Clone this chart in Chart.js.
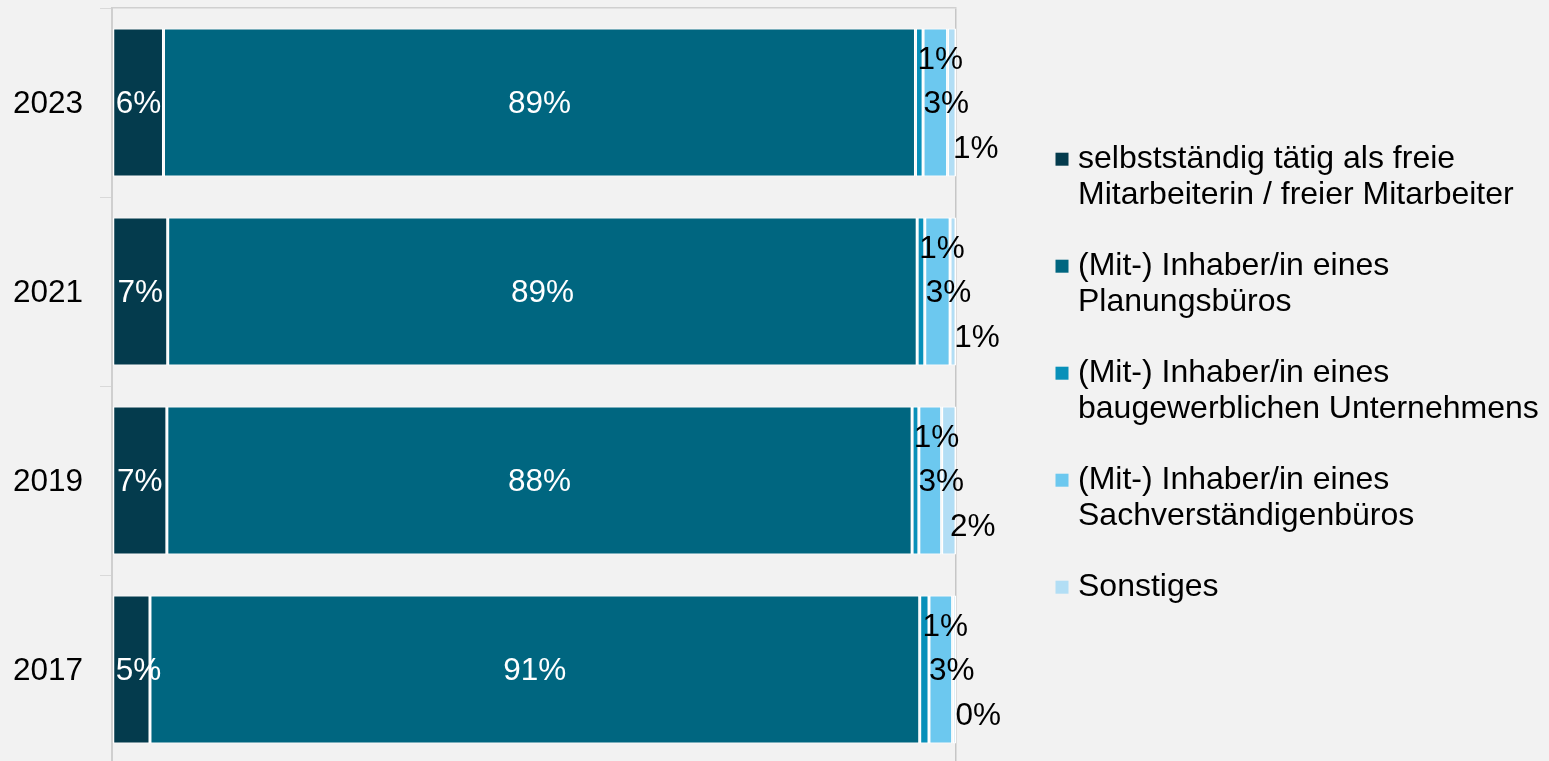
<!DOCTYPE html>
<html lang="de">
<head>
<meta charset="utf-8">
<title>Berufliche Stellung</title>
<script src="https://cdn.jsdelivr.net/npm/chart.js@4/dist/chart.umd.min.js"></script>
<style>
  html, body { margin: 0; padding: 0; background: #f2f2f2; overflow: hidden; }
  #wrap { width: 1549px; height: 772px; position: relative; }
</style>
</head>
<body>
<div id="wrap"><canvas id="canvas_stellung"></canvas></div>
<script>
// Jahre (von oben nach unten)
var jahre = ['2023', '2021', '2019', '2017'];

// Anteile in Prozent je Jahr
var selbststaendig = [6.1, 6.6, 6.5, 4.5];
var planungsbuero  = [89.1, 88.8, 88.3, 91.2];
var baugewerbe     = [0.9, 0.9, 0.8, 1.1];
var sachverstaend  = [2.9, 3.0, 2.7, 2.8];
var sonstiges      = [1.0, 0.7, 1.7, 0.4];

// Legendentexte (zweizeilig); Leerzeichen am Ende nur für die Breitenberechnung
var legendTexte = [
  ['selbstständig tätig als freie', 'Mitarbeiterin / freier Mitarbeiter    '],
  ['(Mit-) Inhaber/in eines', 'Planungsbüros'],
  ['(Mit-) Inhaber/in eines', 'baugewerblichen Unternehmens'],
  ['(Mit-) Inhaber/in eines', 'Sachverständigenbüros'],
  ['Sonstiges', '']
];

var farben = ['#043b4d', '#006680', '#0890b9', '#6cc8ef', '#b2def5'];

var FONT = "'Liberation Sans', Arial, sans-serif";
var FS = 31.5;
var FS_LEG = 32;

Chart.defaults.font.family = FONT;
Chart.defaults.color = '#000';

function makeSet(idx, werte) {
  return {
    label: legendTexte[idx],
    data: werte,
    backgroundColor: farben[idx],
    borderColor: '#ffffff',
    borderWidth: { left: 1.5, right: 1.5, top: 1, bottom: 1 },
    borderSkipped: false,
    barPercentage: 0.783,
    categoryPercentage: 1
  };
}

// Beschriftung der Segmente (Versatz je Reihe)
var labelVersatz = [
  { dx: 0, dy: 0 },
  { dx: 0, dy: 0 },
  { dx: 21, dy: -44 },
  { dx: 11, dy: 0 },
  { dx: 24, dy: 45 }
];

var segLabels = {
  id: 'segLabels',
  afterDatasetsDraw: function(chart) {
    var ctx = chart.ctx;
    ctx.save();
    ctx.font = FS + 'px ' + FONT;
    ctx.textBaseline = 'middle';
    ctx.textAlign = 'center';
    chart.data.datasets.forEach(function(ds, di) {
      var meta = chart.getDatasetMeta(di);
      meta.data.forEach(function(bar, i) {
        var p = bar.getProps(['x', 'base', 'y'], true);
        var txt = Math.round(ds.data[i]) + '%';
        var w = ctx.measureText(txt).width;
        var mid = (p.x + p.base) / 2;
        var lx = mid + labelVersatz[di].dx;
        var ly = p.y + labelVersatz[di].dy + 2;
        if (di === 0) lx = Math.max(mid, Math.min(p.x, p.base) + w / 2 + 3);
        ctx.fillStyle = di < 2 ? '#ffffff' : '#000000';
        ctx.fillText(txt, lx, ly);
      });
    });
    ctx.restore();
  }
};

var config = {
  type: 'bar',
  data: {
    labels: jahre,
    datasets: [
      makeSet(0, selbststaendig),
      makeSet(1, planungsbuero),
      makeSet(2, baugewerbe),
      makeSet(3, sachverstaend),
      makeSet(4, sonstiges)
    ]
  },
  options: {
    indexAxis: 'y',
    responsive: true,
    maintainAspectRatio: false,
    animation: false,
    layout: { padding: { left: 13, top: 8, right: 0, bottom: 8 } },
    scales: {
      x: {
        position: 'top',
        stacked: true,
        min: 0,
        max: 100,
        ticks: { display: false, stepSize: 100 },
        grid: { color: '#c6c6c6', lineWidth: 1.5, drawTicks: false },
        border: { color: '#d0d0d0', width: 1.5 },
        afterFit: function(s) { s.paddingLeft = 0; s.paddingRight = 0; }
      },
      y: {
        stacked: true,
        grid: { drawOnChartArea: false, drawTicks: true, tickLength: 12, color: '#d9d9d9', offset: true },
        border: { color: '#cfcfcf', width: 2 },
        ticks: { padding: 17, color: '#000', labelOffset: 1.5, font: { size: FS, family: FONT } },
        afterFit: function(s) { s.width = 99; s.paddingTop = 0; s.paddingBottom = 0; }
      },
      gap: {
        type: 'linear',
        position: 'right',
        display: true,
        grid: { display: false },
        border: { display: false },
        ticks: { display: false },
        afterFit: function(s) { s.width = 71; s.paddingTop = 0; s.paddingBottom = 0; }
      }
    },
    plugins: {
      tooltip: { enabled: false },
      legend: {
        position: 'right',
        maxWidth: 522,
        title: { display: true, text: '', padding: 0, font: { size: 12, lineHeight: 1.2 } },
        labels: {
          color: '#000',
          font: { size: FS_LEG, family: FONT, lineHeight: 36 / FS_LEG },
          padding: 35,
          usePointStyle: true,
          pointStyle: 'rect',
          boxWidth: 0.01,
          boxHeight: 13,
          generateLabels: function(chart) {
            var items = Chart.defaults.plugins.legend.labels.generateLabels(chart);
            items.forEach(function(it) {
              it.lineWidth = 0;
              it.strokeStyle = it.fillStyle;
              it.pointStyle = 'rect';
            });
            return items;
          }
        }
      }
    }
  },
  plugins: [segLabels]
};

var ctx_stellung = document.getElementById('canvas_stellung').getContext('2d');
new Chart(ctx_stellung, config);
</script>
</body>
</html>
